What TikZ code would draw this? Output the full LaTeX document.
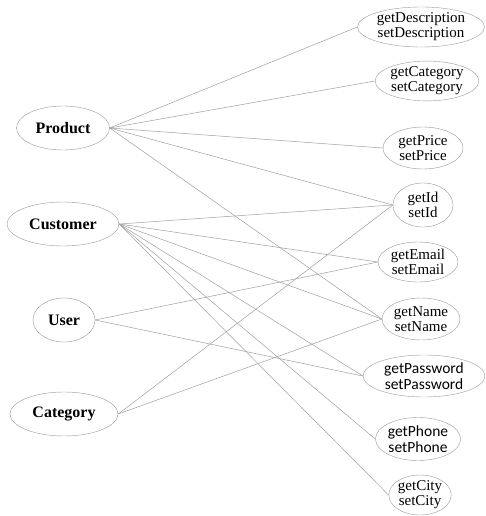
\documentclass[tikz,border=0pt]{standalone}
\usepackage{fontspec}
\setmainfont{Liberation Serif}
\newfontfamily\calfont{Carlito}
\usetikzlibrary{shapes,positioning}

\begin{document}
\begin{tikzpicture}[x=1pt, y=-1pt,
    entity/.style={ellipse, draw=gray!80, inner sep=0pt, minimum height=44pt, font=\fontsize{16}{18}\selectfont\bfseries},
    method/.style={ellipse, draw=gray!80, inner sep=0pt, minimum height=42pt, align=center, font=\fontsize{15}{15}\selectfont},
    link/.style={draw=gray!75, line width=0.5pt}
  ]
    \useasboundingbox (0,0) rectangle (486,516);

    \node[entity, minimum width=93pt] (product) at (63,128) {Product};
    \node[entity, minimum width=112pt] (customer) at (63,224) {Customer};
    \node[entity, minimum width=62pt] (user) at (64,320) {User};
    \node[entity, minimum width=108pt] (category) at (64,414) {Category};

    \node[method, minimum width=127pt, minimum height=40pt] (desc) at (421,27) {getDescription\\setDescription};
    \node[method, minimum width=101pt, minimum height=38pt] (cat) at (427,81) {getCategory\\setCategory};
    \node[method, minimum width=80pt] (price) at (423,148) {getPrice\\setPrice};
    \node[method, minimum width=60pt, minimum height=44pt] (id) at (423,205) {getId\\setId};
    \node[method, minimum width=80pt, minimum height=40pt] (email) at (418,262) {getEmail\\setEmail};
    \node[method, minimum width=78pt] (name) at (421,319) {getName\\setName};
    \node[method, minimum width=122pt, font=\fontsize{15.5}{16.5}\selectfont\calfont] (pass) at (424,376) {getPassword\\setPassword};
    \node[method, minimum width=83pt, minimum height=43pt, font=\fontsize{15.5}{16.5}\selectfont\calfont] (phone) at (418,439) {getPhone\\setPhone};
    \node[method, minimum width=60pt, minimum height=40pt] (city) at (420,495) {getCity\\setCity};

    \draw[link] (product.east) -- (desc.west);
    \draw[link] (product.east) -- (cat.west);
    \draw[link] (product.east) -- (price.west);
    \draw[link] (product.east) -- (id.west);
    \draw[link] (product.east) -- (name.west);

    \draw[link] (customer.east) -- (id.west);
    \draw[link] (customer.east) -- (email.west);
    \draw[link] (customer.east) -- (name.west);
    \draw[link] (customer.east) -- (pass.west);
    \draw[link] (customer.east) -- (phone.west);
    \draw[link] (customer.east) -- (city.west);

    \draw[link] (user.east) -- (email.west);
    \draw[link] (user.east) -- (pass.west);

    \draw[link] (category.east) -- (id.west);
    \draw[link] (category.east) -- (name.west);
  \end{tikzpicture}
\end{document}
